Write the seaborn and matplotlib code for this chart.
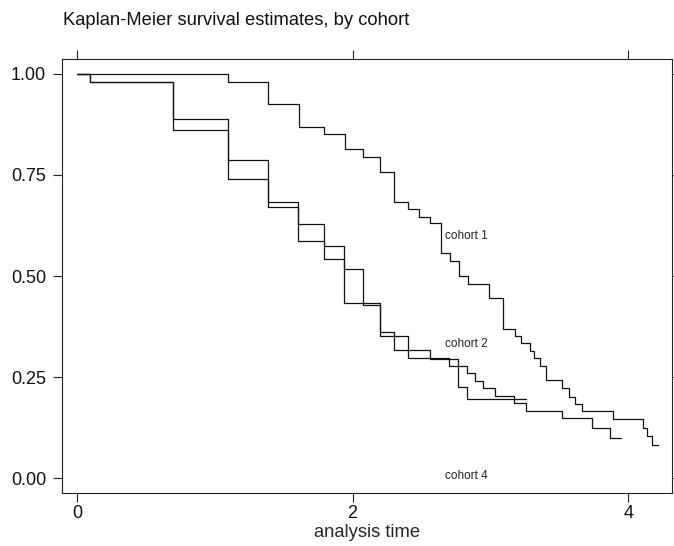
import pandas as pd
import matplotlib
matplotlib.use("Agg")
import matplotlib.pyplot as plt
import seaborn as sns

# Kaplan-Meier step values (time, survivor estimate)
cohort1_time = [0, 1.098, 1.388, 1.609, 1.792, 1.945, 2.079, 2.199, 2.303, 2.400, 2.484,
                2.562, 2.639, 2.707, 2.772, 2.835, 2.992, 3.089, 3.178, 3.220, 3.287,
                3.316, 3.360, 3.403, 3.522, 3.573, 3.614, 3.662, 3.892, 4.110, 4.134,
                4.175, 4.218]
cohort1_surv = [1.000, 0.981, 0.926, 0.869, 0.851, 0.814, 0.795, 0.758, 0.684, 0.667, 0.647,
                0.630, 0.556, 0.538, 0.500, 0.480, 0.445, 0.370, 0.351, 0.333, 0.315,
                0.296, 0.277, 0.243, 0.224, 0.201, 0.183, 0.166, 0.145, 0.123, 0.104,
                0.083, 0.083]

cohort2_time = [0, 0.094, 0.693, 1.098, 1.386, 1.607, 1.789, 1.941, 2.199, 2.400, 2.702,
                2.828, 2.888, 2.944, 3.033, 3.171, 3.258, 3.517, 3.739, 3.868, 3.948]
cohort2_surv = [1.000, 0.981, 0.888, 0.787, 0.684, 0.629, 0.542, 0.432, 0.351, 0.296, 0.278,
                0.259, 0.241, 0.222, 0.203, 0.185, 0.166, 0.148, 0.123, 0.099, 0.099]

cohort4_time = [0, 0.094, 0.693, 1.098, 1.386, 1.607, 1.789, 1.941, 2.078, 2.199, 2.303,
                2.562, 2.767, 2.828, 3.258]
cohort4_surv = [1.000, 0.981, 0.861, 0.740, 0.670, 0.587, 0.574, 0.517, 0.428, 0.362, 0.318,
                0.294, 0.226, 0.196, 0.196]

label_names = ["cohort 1", "cohort 2", "cohort 4"]
label_y = [0.599, 0.332, 0.005]
label_x = 2.67

x_ticks = [0, 2, 4]
y_ticks = [0.0, 0.25, 0.5, 0.75, 1.0]

df = pd.concat([
    pd.DataFrame({"time": cohort1_time, "surv": cohort1_surv, "cohort": "cohort 1"}),
    pd.DataFrame({"time": cohort2_time, "surv": cohort2_surv, "cohort": "cohort 2"}),
    pd.DataFrame({"time": cohort4_time, "surv": cohort4_surv, "cohort": "cohort 4"}),
])

sns.set_theme(style="ticks")
plt.rcParams["font.family"] = ["Liberation Sans", "DejaVu Sans"]

fig = plt.figure(figsize=(6.74, 5.46), dpi=100)
ax = fig.add_axes([0.092, 0.097, 0.905, 0.795])

sns.lineplot(data=df, x="time", y="surv", hue="cohort",
             palette=["#111111"] * 3, drawstyle="steps-post",
             estimator=None, legend=False, linewidth=0.9, ax=ax)

for name, y in zip(label_names, label_y):
    ax.text(label_x, y, name, ha="left", va="center", fontsize=8.5, color="#222222")

ax.set_xlim(-0.109, 4.318)
ax.set_ylim(-0.037, 1.037)
ax.set_xticks(x_ticks)
ax.set_xticklabels([str(t) for t in x_ticks])
ax.set_yticks(y_ticks)
ax.set_yticklabels([f"{t:.2f}" for t in y_ticks])
ax.tick_params(axis="both", which="major", direction="out", length=6.5, width=0.8,
               color="#222222", bottom=True, left=True, top=True, right=True,
               labelsize=13, labelcolor="#111111")
ax.tick_params(axis="y", pad=5)
ax.tick_params(axis="x", pad=2)
for s in ax.spines.values():
    s.set_visible(True)
    s.set_color("#222222")
    s.set_linewidth(0.8)

ax.set_xlabel("analysis time", fontsize=13.2, labelpad=1.5)
ax.set_ylabel("")
fig.text(0.0935, 0.963, "Kaplan-Meier survival estimates, by cohort",
         ha="left", va="center", fontsize=13.2, color="#111111")

fig.savefig("out.png", dpi=100, facecolor="white")
